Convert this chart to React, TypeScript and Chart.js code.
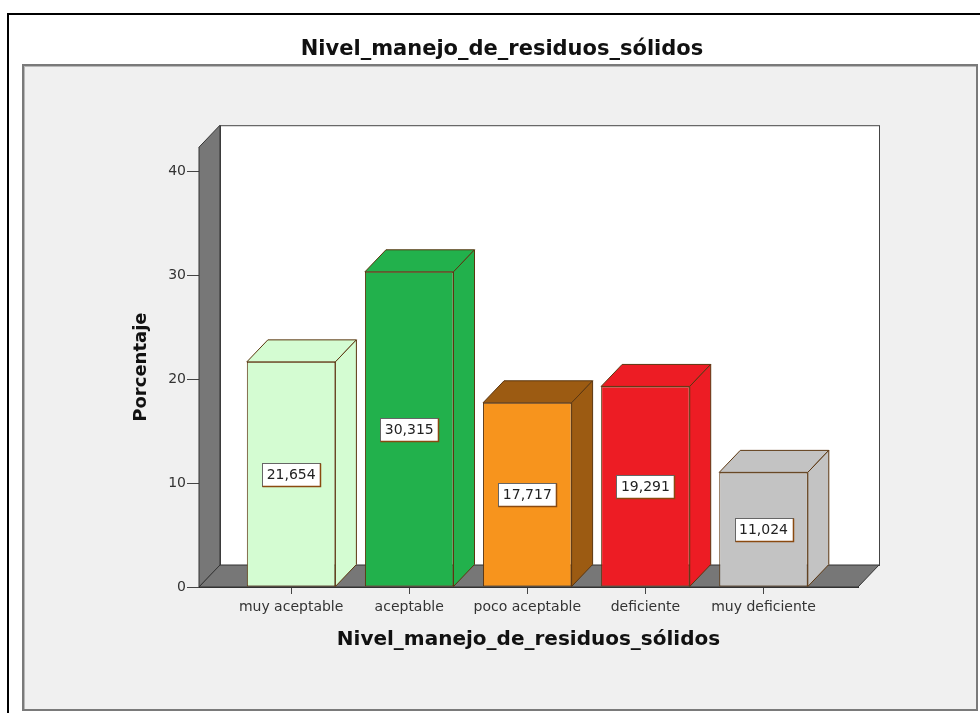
import React, { useEffect, useRef } from 'react';
import { Chart, registerables } from 'chart.js';

Chart.register(...registerables);

const categories = ['muy aceptable', 'aceptable', 'poco aceptable', 'deficiente', 'muy deficiente'];
const percentages = [21.654, 30.315, 17.717, 19.291, 11.024];
const frontColors = ['#d4fcd2', '#22b14c', '#f7941d', '#ed1c24', '#c3c3c3'];
const sideColors = ['#d4fcd2', '#22b14c', '#9c5b12', '#ed1c24', '#c3c3c3'];
const yTickValues = [0, 10, 20, 30, 40];
const chartTitle = 'Nivel_manejo_de_residuos_sólidos';
const xTitle = 'Nivel_manejo_de_residuos_sólidos';
const yTitle = 'Porcentaje';

const DX = 21;
const DY = 22;
const EDGE = '#5b3610';
const FONT = "'DejaVu Sans', Arial, sans-serif";

function poly(ctx: CanvasRenderingContext2D, pts: number[][], fill: string, stroke: string) {
  ctx.beginPath();
  ctx.moveTo(pts[0][0], pts[0][1]);
  for (let i = 1; i < pts.length; i++) ctx.lineTo(pts[i][0], pts[i][1]);
  ctx.closePath();
  ctx.fillStyle = fill;
  ctx.fill();
  ctx.strokeStyle = stroke;
  ctx.lineWidth = 1;
  ctx.stroke();
}

const box3d = {
  id: 'box3d',
  beforeDatasetsDraw(chart: any) {
    const { ctx, chartArea } = chart;
    const { left, right, top, bottom } = chartArea;
    ctx.save();
    // back wall
    ctx.fillStyle = '#ffffff';
    ctx.fillRect(left + DX, top - DY, right - left, bottom - top);
    ctx.strokeStyle = '#444';
    ctx.lineWidth = 1;
    ctx.strokeRect(left + DX + 0.5, top - DY + 0.5, right - left, bottom - top);
    // left wall
    poly(ctx, [[left, top], [left + DX, top - DY], [left + DX, bottom - DY], [left, bottom]], '#777777', '#333');
    // floor
    poly(ctx, [[left, bottom], [left + DX, bottom - DY], [right + DX, bottom - DY], [right, bottom]], '#777777', '#333');
    ctx.restore();
  },
  afterDatasetsDraw(chart: any) {
    const { ctx } = chart;
    const meta = chart.getDatasetMeta(0);
    ctx.save();
    meta.data.forEach((bar: any, i: number) => {
      const { x, y, base, width } = bar.getProps(['x', 'y', 'base', 'width'], true);
      const l = x - width / 2;
      const r = x + width / 2;
      poly(ctx, [[l, y], [l + DX, y - DY], [r + DX, y - DY], [r, y]], sideColors[i], EDGE);
      poly(ctx, [[r, y], [r + DX, y - DY], [r + DX, base - DY], [r, base]], sideColors[i], EDGE);
    });
    // value labels
    ctx.font = `14px ${FONT}`;
    ctx.textAlign = 'center';
    ctx.textBaseline = 'middle';
    meta.data.forEach((bar: any, i: number) => {
      const { x, y, base } = bar.getProps(['x', 'y', 'base'], true);
      const cy = (y + base) / 2;
      const text = percentages[i].toFixed(3).replace('.', ',');
      const w = ctx.measureText(text).width + 9;
      const h = 23;
      const bx = Math.round(x - w / 2) + 0.5;
      const by = Math.round(cy - h / 2) + 0.5;
      ctx.fillStyle = '#ffffff';
      ctx.fillRect(bx, by, w, h);
      ctx.lineWidth = 1;
      ctx.strokeStyle = '#666';
      ctx.strokeRect(bx, by, w, h);
      ctx.strokeStyle = '#8a4a10';
      ctx.lineWidth = 1.5;
      ctx.beginPath();
      ctx.moveTo(bx + w, by);
      ctx.lineTo(bx + w, by + h);
      ctx.lineTo(bx, by + h);
      ctx.stroke();
      ctx.fillStyle = '#222';
      ctx.fillText(text, x, cy + 1);
    });
    ctx.restore();
  },
};

export default function App() {
  const ref = useRef<HTMLCanvasElement>(null);

  useEffect(() => {
    if (!ref.current) return;
    const chart = new Chart(ref.current, {
      type: 'bar',
      data: {
        datasets: [
          {
            data: percentages.map((v, i) => ({ x: i, y: v })),
            backgroundColor: frontColors,
            borderColor: EDGE,
            borderWidth: 1,
            borderSkipped: false,
            barPercentage: 0.75,
            categoryPercentage: 1,
          },
        ],
      },
      options: {
        responsive: false,
        animation: false,
        layout: { padding: { left: 24, top: 0, right: 0, bottom: 0 } },
        plugins: {
          legend: { display: false },
          tooltip: { enabled: false },
          title: {
            display: true,
            text: chartTitle,
            color: '#111',
            font: { family: FONT, size: 21, weight: 'bold' },
            padding: { top: 37, bottom: 85 },
          },
        },
        scales: {
          x: {
            type: 'linear',
            min: -0.78,
            max: 4.8,
            offset: false,
            afterFit: (s: any) => {
              s.height = 126;
            },
            afterBuildTicks: (s: any) => {
              s.ticks = categories.map((_, i) => ({ value: i }));
            },
            ticks: {
              autoSkip: false,
              maxRotation: 0,
              color: '#333',
              padding: 5,
              font: { family: FONT, size: 14 },
              callback: (v: any) => categories[v] ?? '',
            },
            grid: { display: true, offset: false, drawOnChartArea: false, drawTicks: true, tickLength: 7, color: '#444' },
            border: { display: true, color: '#333' },
            title: {
              display: true,
              text: xTitle,
              color: '#111',
              font: { family: FONT, size: 20, weight: 'bold' },
              padding: { top: 0, bottom: 61 },
            },
          },
          y: {
            min: 0,
            max: 42.3,
            afterFit: (s: any) => {
              s.width = 175;
            },
            afterBuildTicks: (s: any) => {
              s.ticks = yTickValues.map((v) => ({ value: v }));
            },
            ticks: {
              color: '#333',
              padding: 1,
              font: { family: FONT, size: 14 },
            },
            grid: { display: true, drawOnChartArea: false, drawTicks: true, tickLength: 12, color: '#444' },
            border: { display: true, color: '#333' },
            title: {
              display: true,
              text: yTitle,
              color: '#111',
              font: { family: FONT, size: 18, weight: 'bold' },
              padding: { top: 107, bottom: 0 },
            },
          },
          yR: {
            type: 'linear',
            position: 'right',
            display: true,
            afterFit: (s: any) => {
              s.width = 122;
            },
            ticks: { display: false },
            grid: { display: false },
            border: { display: false },
          },
        },
      },
      plugins: [box3d],
    } as any);
    return () => chart.destroy();
  }, []);

  return (
    <div style={{ position: 'absolute', left: 0, top: 0, width: 980, height: 713, background: '#ffffff', overflow: 'hidden' }}>
      <div
        style={{
          position: 'absolute',
          left: 7,
          top: 13,
          width: 990,
          height: 720,
          borderTop: '2px solid #000',
          borderLeft: '2px solid #000',
        }}
      />
      <div
        style={{
          position: 'absolute',
          left: 22,
          top: 64,
          width: 952,
          height: 643,
          background: '#f0f0f0',
          border: '2px solid #7a7a7a',
          boxShadow: 'inset 1px 1px 0 #b8b8b8',
        }}
      />
      <canvas ref={ref} width={980} height={713} style={{ position: 'absolute', left: 0, top: 0, width: 980, height: 713 }} />
    </div>
  );
}
